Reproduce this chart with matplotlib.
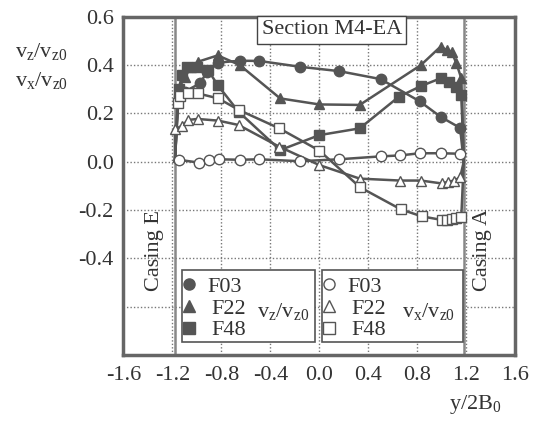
import matplotlib
matplotlib.use('Agg')
import matplotlib.pyplot as plt
from matplotlib.lines import Line2D
from matplotlib.legend import Legend

plt.rcParams['font.family'] = 'Liberation Serif'
plt.rcParams['mathtext.fontset'] = 'custom'
plt.rcParams['mathtext.rm'] = 'Liberation Serif'
plt.rcParams['mathtext.it'] = 'Liberation Serif:italic'

# casing walls (y/2B0)
wall = 1.18

# v_z/v_z0, filled markers
vz_f03_x = [-1.15, -1.10, -0.975, -0.92, -0.83, -0.65, -0.49, -0.16, 0.16, 0.50, 0.82, 0.99, 1.15]
vz_f03_y = [0.27, 0.29, 0.324, 0.37, 0.41, 0.418, 0.417, 0.393, 0.375, 0.342, 0.25, 0.186, 0.14]
vz_f22_x = [-1.15, -1.10, -1.05, -0.99, -0.83, -0.65, -0.32, 0.0, 0.33, 0.83, 0.99, 1.04, 1.08, 1.12, 1.16]
vz_f22_y = [0.30, 0.35, 0.39, 0.414, 0.44, 0.40, 0.262, 0.237, 0.235, 0.40, 0.476, 0.462, 0.455, 0.407, 0.345]
vz_f48_x = [-1.15, -1.12, -1.08, -1.0, -0.91, -0.83, -0.66, -0.32, 0.0, 0.33, 0.65, 0.83, 0.99, 1.06, 1.12, 1.16]
vz_f48_y = [0.30, 0.36, 0.39, 0.39, 0.38, 0.317, 0.207, 0.048, 0.11, 0.138, 0.269, 0.313, 0.345, 0.33, 0.31, 0.276]

# v_x/v_z0, open markers
vx_f03_x = [-1.15, -0.98, -0.90, -0.82, -0.65, -0.49, -0.16, 0.16, 0.50, 0.66, 0.82, 0.99, 1.15]
vx_f03_y = [0.008, -0.004, 0.008, 0.01, 0.008, 0.01, 0.002, 0.01, 0.022, 0.026, 0.035, 0.035, 0.033]
vx_f22_x = [-1.18, -1.125, -1.07, -0.995, -0.826, -0.66, -0.327, 0.0, 0.33, 0.66, 0.83, 1.0, 1.055, 1.10, 1.15]
vx_f22_y = [0.134, 0.148, 0.173, 0.177, 0.17, 0.152, 0.062, -0.014, -0.07, -0.078, -0.078, -0.09, -0.083, -0.078, -0.065]
vx_f48_x = [-1.158, -1.14, -1.07, -0.995, -0.826, -0.657, -0.327, 0.0, 0.333, 0.665, 0.835, 1.0, 1.04, 1.08, 1.12, 1.16]
vx_f48_y = [0.242, 0.272, 0.286, 0.283, 0.262, 0.214, 0.138, 0.046, -0.106, -0.197, -0.226, -0.241, -0.24, -0.238, -0.235, -0.228]

xticks = [-1.6, -1.2, -0.8, -0.4, 0.0, 0.4, 0.8, 1.2, 1.6]
yticks = [-0.6, -0.4, -0.2, 0.0, 0.2, 0.4, 0.6]

dark = '#555555'
txt = '#333333'
fig = plt.figure(figsize=(5.44, 4.26), dpi=100)
ax = fig.add_axes([0.227, 0.1667, 0.720, 0.794])

series = [
    (vz_f03_x, vz_f03_y, 'o', dark),
    (vz_f22_x, vz_f22_y, '^', dark),
    (vz_f48_x, vz_f48_y, 's', dark),
    (vx_f03_x, vx_f03_y, 'o', 'white'),
    (vx_f22_x, vx_f22_y, '^', 'white'),
    (vx_f48_x, vx_f48_y, 's', 'white'),
]
for xs, ys, m, fc in series:
    # line runs to zero velocity at both walls
    ax.plot([-wall] + xs + [wall], [0.0] + ys + [0.0], color=dark, lw=1.8, zorder=3)
    ax.plot(xs, ys, ls='none', marker=m, ms=7.5, mfc=fc, mec=dark, mew=1.0, zorder=4)

ax.axvline(-wall, color='#888888', lw=1.8, zorder=2)
ax.axvline(wall, color='#888888', lw=1.8, zorder=2)

ax.set_xlim(-1.6, 1.6)
ax.set_ylim(-0.8, 0.6)
ax.set_xticks(xticks)
ax.set_xticklabels(['%.1f' % t for t in xticks])
ax.set_yticks(yticks)
ax.set_yticklabels(['' if t == -0.6 else '%.1f' % t for t in yticks])
ax.tick_params(length=0, labelsize=16, labelcolor=txt)
ax.tick_params(axis='y', pad=7)
ax.tick_params(axis='x', pad=8)
ax.grid(True, ls=(0, (1, 1.5)), color='#777777', lw=1.0)
for s in ax.spines.values():
    s.set_linewidth(2.5)
    s.set_color('#666666')

ax.text(0.532, 0.962, 'Section M4-EA', transform=ax.transAxes, ha='center', va='center',
        fontsize=16, color=txt, zorder=6,
        bbox=dict(boxstyle='square,pad=0.2', fc='white', ec='#444444', lw=1.0))
ax.text(0.08, 0.31, 'Casing E', transform=ax.transAxes, rotation=90, ha='center', va='center',
        fontsize=16, color=txt)
ax.text(0.916, 0.31, 'Casing A', transform=ax.transAxes, rotation=90, ha='center', va='center',
        fontsize=16, color=txt)

fig.text(0.028, 0.878, r'v$_\mathrm{z}$/v$_\mathrm{z0}$', fontsize=16, color=txt, va='center')
fig.text(0.028, 0.812, r'v$_\mathrm{x}$/v$_\mathrm{z0}$', fontsize=16, color=txt, va='center')
fig.text(0.826, 0.05, r'y/2B$_\mathrm{0}$', fontsize=16, color=txt, va='center')

# legends
names = ['F03', 'F22', 'F48']
boxes = [(0.149, 0.489, dark, r'v$_\mathrm{z}$/v$_\mathrm{z0}$', 0.342),
         (0.507, 0.867, 'white', r'v$_\mathrm{x}$/v$_\mathrm{z0}$', 0.712)]
for x0, x1, fc, lab, lx in boxes:
    ax.add_patch(plt.Rectangle((x0, 0.038), x1 - x0, 0.213, transform=ax.transAxes,
                               fc='white', ec='#555555', lw=1.2, zorder=6))
    handles = [Line2D([], [], ls='none', marker=m, ms=8, mfc=fc, mec=dark, mew=1.0)
               for m in ['o', '^', 's']]
    leg = Legend(ax, handles, names, loc='upper left', bbox_to_anchor=(x0 - 0.045, 0.278),
                 bbox_transform=ax.transAxes, frameon=False, fontsize=16, handlelength=0.8,
                 handletextpad=0.45, labelspacing=0.05, borderpad=0.2)
    for i, t in enumerate(leg.get_texts()):
        t.set_color(txt)
        if i > 0:
            t.set_x(t.get_position()[0] + 4)
    leg.set_zorder(7)
    ax.add_artist(leg)
    ax.text(lx, 0.13, lab, transform=ax.transAxes, fontsize=16, color=txt,
            va='center', zorder=8)

fig.savefig('out.png', dpi=100)
